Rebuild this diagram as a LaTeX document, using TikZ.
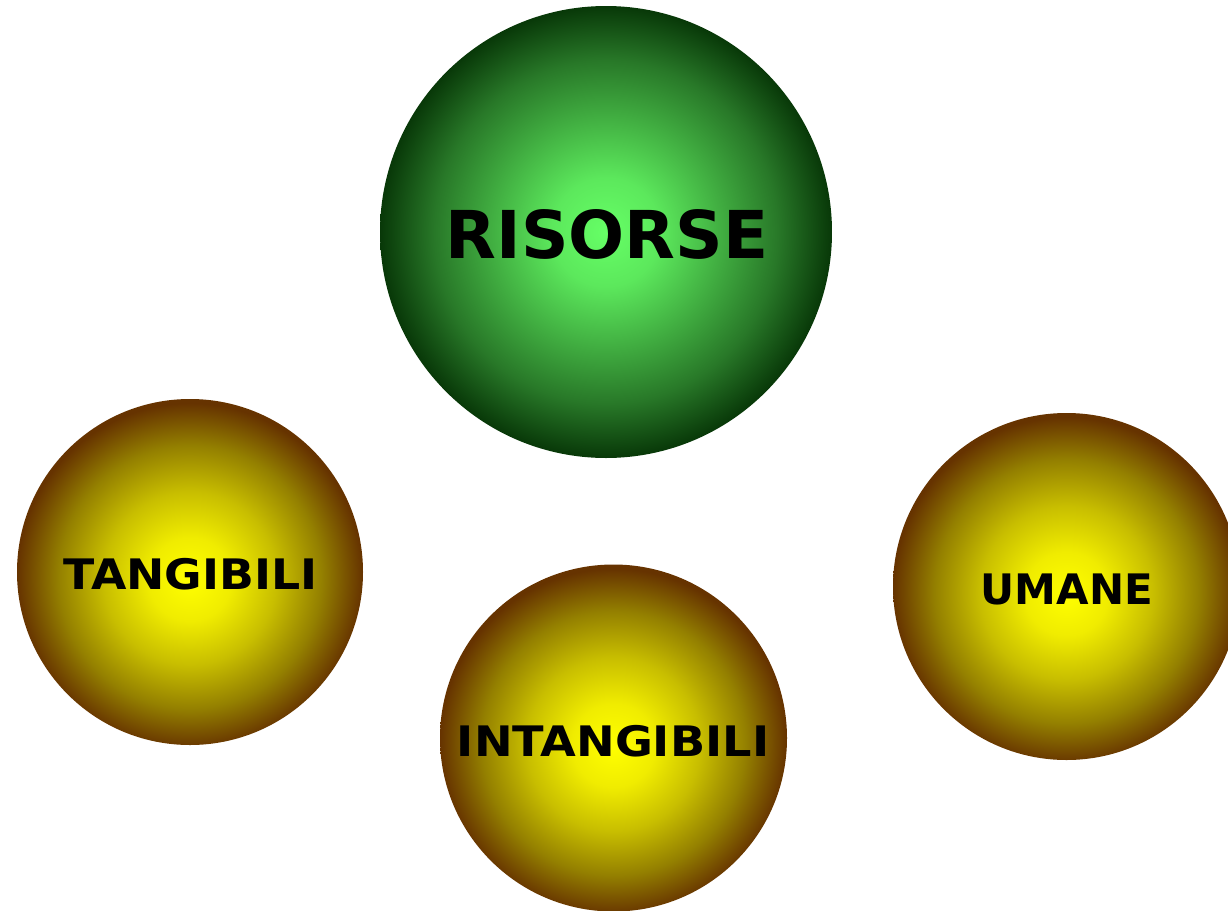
\documentclass[tikz,border=0pt]{standalone}
\usepackage{fontspec}
\setmainfont{DejaVu Sans}
\definecolor{gin}{HTML}{66FF66}
\definecolor{gq1}{HTML}{5CE85C}
\definecolor{gq2}{HTML}{42B042}
\definecolor{gq3}{HTML}{287828}
\definecolor{gout}{HTML}{083808}
\definecolor{yin}{HTML}{FFFF00}
\definecolor{yq1}{HTML}{F0EC00}
\definecolor{yq2}{HTML}{C8BE00}
\definecolor{yq3}{HTML}{948000}
\definecolor{yout}{HTML}{663300}
\pgfdeclareradialshading{greenball}{\pgfpoint{0bp}{0bp}}{color(0bp)=(gin); color(6bp)=(gq1); color(12.5bp)=(gq2); color(19bp)=(gq3); color(25bp)=(gout); color(50bp)=(gout)}
\pgfdeclareradialshading{yellowball}{\pgfpoint{0bp}{-1.2bp}}{color(0bp)=(yin); color(6bp)=(yq1); color(12.5bp)=(yq2); color(19bp)=(yq3); color(25bp)=(yout); color(50bp)=(yout)}
\tikzset{
  ball/.style={circle, inner sep=0pt, draw=none, minimum size=#1},
  greenb/.style={ball=#1, shading=greenball},
  yellowb/.style={ball=#1, shading=yellowball},
  lbl/.style={anchor=base, inner sep=0pt, text=black, font=\bfseries\fontsize{42}{48}\selectfont},
  biglbl/.style={anchor=base, inner sep=0pt, text=black, font=\bfseries\fontsize{66}{72}\selectfont}
}
\begin{document}
\begin{tikzpicture}[x=1pt,y=-1pt]
\useasboundingbox (0,0) rectangle (1228,910);
\clip (0,0) rectangle (1228,910);
\node[greenb=452pt] (ris) at (606,232) {};
\node[yellowb=346pt] (tan) at (190,572) {};
\node[yellowb=347pt] (int) at (613.5,738) {};
\node[yellowb=347pt] (uma) at (1066.5,586.5) {};
\node[biglbl] (trisorse) at (607,258) {RISORSE};
\node[lbl] (ttan) at (190.5,589) {\scalebox{1.09}[1]{TANGIBILI}};
\node[lbl] (tint) at (613,756) {\scalebox{1.10}[1]{INTANGIBILI}};
\node[lbl] (tuma) at (1067,604) {UMANE};
\end{tikzpicture}
\end{document}
